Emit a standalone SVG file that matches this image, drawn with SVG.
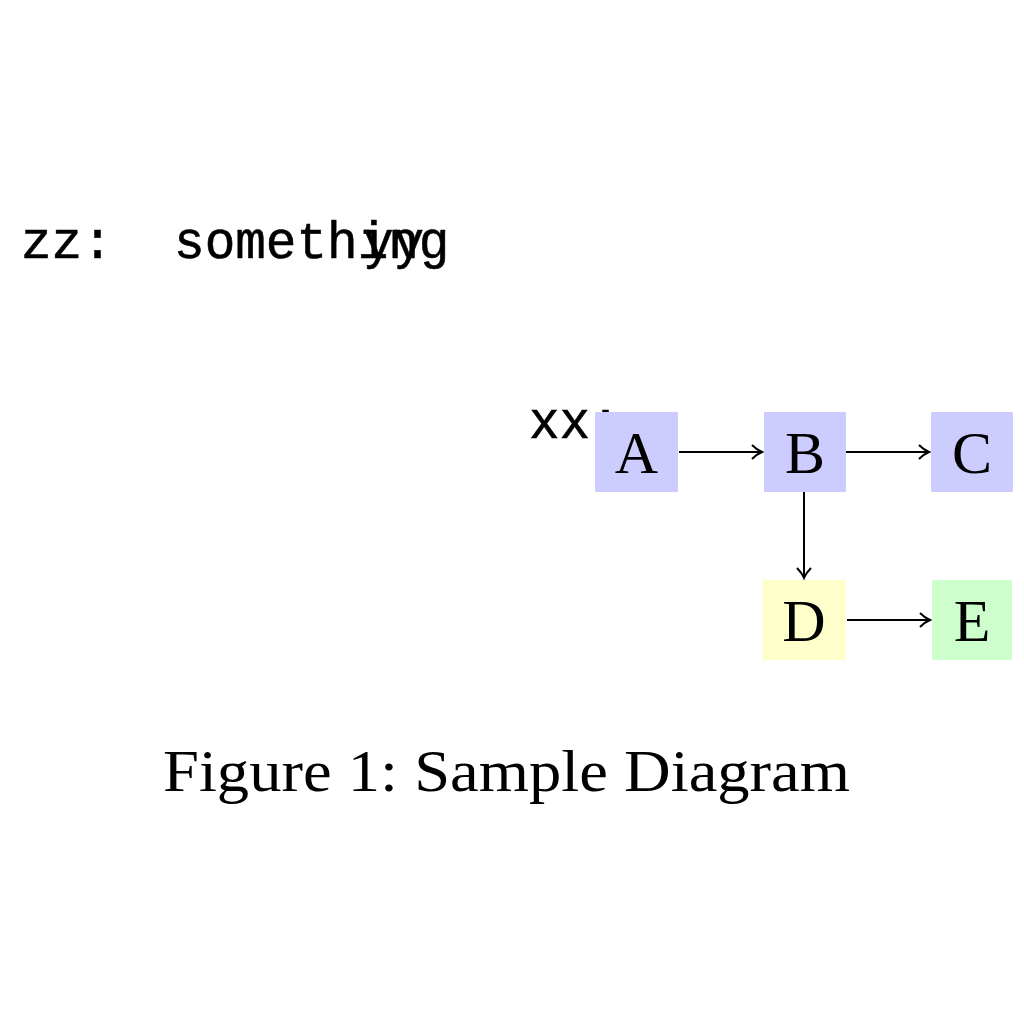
<svg xmlns="http://www.w3.org/2000/svg" width="1024" height="1024" viewBox="0 0 1024 1024">
<defs>
<style>
.mono{font-family:"Liberation Mono","DejaVu Sans Mono",monospace;font-size:51px;fill:#000;stroke:#000;stroke-width:0.6}
.lbl{font-family:"Liberation Serif","DejaVu Serif",serif;font-size:60px;fill:#000;text-anchor:middle}
.cap{font-family:"Liberation Serif","DejaVu Serif",serif;font-size:60px;fill:#000}
.edge{stroke:#000;stroke-width:2;fill:none;marker-end:url(#to)}
.blue{fill:#ccccff}.yellow{fill:#ffffcc}.green{fill:#ccffcc}
</style>
<marker id="to" markerWidth="14" markerHeight="18" refX="11" refY="8" orient="auto" markerUnits="userSpaceOnUse">
<path d="M1,1 Q6,6 11,8 Q6,10 1,15" fill="none" stroke="#000" stroke-width="2"/>
</marker>
</defs>
<rect width="1024" height="1024" fill="#fff"/>
<g id="zz-text">
<text class="mono" x="21" y="258" xml:space="preserve">zz:  something</text>
<text class="mono" x="363" y="258">yy</text>
</g>
<g id="xx-text"><text class="mono" x="529" y="438">xx:</text></g>
<g id="connectors">
<line class="edge" x1="679" y1="452" x2="762" y2="452"/>
<line class="edge" x1="846" y1="452" x2="929" y2="452"/>
<line class="edge" x1="804" y1="492" x2="804" y2="578"/>
<line class="edge" x1="847" y1="620" x2="930" y2="620"/>
</g>
<g id="node-A"><rect class="blue" x="595" y="412" width="83" height="80"/><text class="lbl" x="636.5" y="473">A</text></g>
<g id="node-B"><rect class="blue" x="764" y="412" width="82" height="80"/><text class="lbl" x="805" y="473">B</text></g>
<g id="node-C"><rect class="blue" x="931" y="412" width="82" height="80"/><text class="lbl" x="972" y="473">C</text></g>
<g id="node-D"><rect class="yellow" x="762" y="580" width="84" height="80"/><text class="lbl" x="804" y="641">D</text></g>
<g id="node-E"><rect class="green" x="932" y="580" width="80" height="80"/><text class="lbl" x="972" y="641">E</text></g>
<g id="caption"><text class="cap" x="163" y="791" textLength="687" lengthAdjust="spacingAndGlyphs">Figure 1: Sample Diagram</text></g>
</svg>
